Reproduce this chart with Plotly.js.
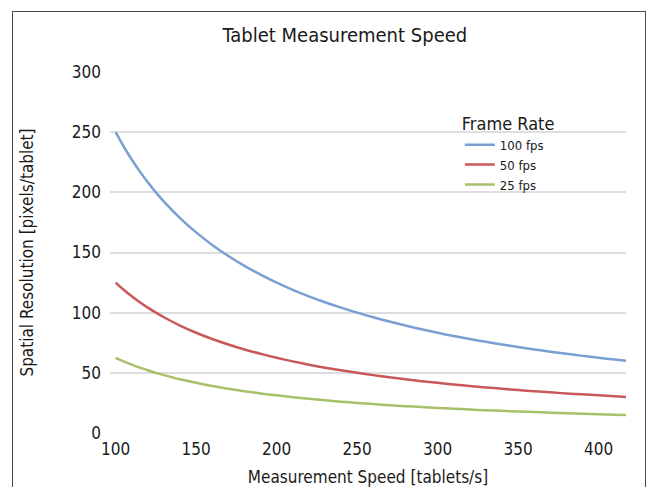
<!DOCTYPE html>
<html>
<head>
<meta charset="utf-8">
<script src="https://cdn.plot.ly/plotly-3.0.1.min.js"></script>
<style>
  html, body { margin: 0; padding: 0; background: #fff; }
  #chart { width: 657px; height: 487px; position: relative; }
  #frame { position: absolute; left: 12px; top: 11px; width: 634px; height: 490px;
           border: 1.5px solid #4a4a4a; box-sizing: border-box; pointer-events: none; }
</style>
</head>
<body>
<div id="chart"></div>
<div id="frame"></div>
<script>
// Measurement speed [tablets/s]
var speed = [100, 105, 110, 115, 120, 125, 130, 140, 150, 160, 170, 180, 190, 200, 210, 220, 230, 240, 250, 260, 270, 280, 290, 300, 310, 320, 330, 340, 350, 360, 370, 380, 390, 400, 410, 417];
// Spatial resolution [pixels/tablet]
var fps100 = [250, 238.1, 227.3, 217.4, 208.3, 200, 192.3, 178.6, 166.7, 156.3, 147.1, 138.9, 131.6, 125, 119, 113.6, 108.7, 104.2, 100, 96.2, 92.6, 89.3, 86.2, 83.3, 80.6, 78.1, 75.8, 73.5, 71.4, 69.4, 67.6, 65.8, 64.1, 62.5, 61, 60];
var fps50  = [125, 119, 113.6, 108.7, 104.2, 100, 96.2, 89.3, 83.3, 78.1, 73.5, 69.4, 65.8, 62.5, 59.5, 56.8, 54.3, 52.1, 50, 48.1, 46.3, 44.6, 43.1, 41.7, 40.3, 39.1, 37.9, 36.8, 35.7, 34.7, 33.8, 32.9, 32.1, 31.3, 30.5, 30];
var fps25  = [62.5, 59.5, 56.8, 54.3, 52.1, 50, 48.1, 44.6, 41.7, 39.1, 36.8, 34.7, 32.9, 31.3, 29.8, 28.4, 27.2, 26, 25, 24, 23.1, 22.3, 21.6, 20.8, 20.2, 19.5, 18.9, 18.4, 17.9, 17.4, 16.9, 16.4, 16, 15.6, 15.2, 15];
var seriesNames = ['100 fps', '50 fps', '25 fps'];
var yTicks = [0, 50, 100, 150, 200, 250, 300];
var xTicks = [100, 150, 200, 250, 300, 350, 400];

var FONT = 'DejaVu Sans Condensed, Liberation Sans, sans-serif';
var colors = ['#7a9fd3', '#c9585a', '#a7c06a'];
var data = [fps100, fps50, fps25].map(function (ys, i) {
  return {
    x: speed, y: ys, name: seriesNames[i], type: 'scatter', mode: 'lines',
    line: { color: colors[i], width: 2.5, shape: 'spline', smoothing: 0.8 }
  };
});

var layout = {
  width: 657, height: 487,
  margin: { l: 110, r: 31, t: 72, b: 54 },
  paper_bgcolor: 'rgba(0,0,0,0)', plot_bgcolor: 'rgba(0,0,0,0)',
  font: { family: FONT, color: '#1a1a1a', size: 17 },
  title: { text: 'Tablet Measurement Speed', x: 0.525, xanchor: 'center', y: 0.928, yanchor: 'middle',
           font: { family: FONT, size: 20, color: '#1a1a1a' } },
  xaxis: {
    range: [96.5, 417], tickvals: xTicks, showgrid: false, zeroline: false,
    showline: false, ticks: '', ticklabelstandoff: 4,
    tickfont: { family: FONT, size: 17 },
    title: { text: 'Measurement Speed [tablets/s]', standoff: 13, font: { family: FONT, size: 17 } }
  },
  yaxis: {
    range: [0, 300], tickvals: yTicks, showgrid: true, gridcolor: '#dedede', gridwidth: 2,
    zeroline: false, showline: false, ticks: '', ticklabelstandoff: 8,
    tickfont: { family: FONT, size: 17 },
    title: { text: 'Spatial Resolution [pixels/tablet]', standoff: 33, font: { family: FONT, size: 17 } }
  },
  showlegend: true,
  legend: {
    x: 0.678, y: 0.905, xanchor: 'left', yanchor: 'top',
    bgcolor: 'rgba(0,0,0,0)', borderwidth: 0,
    title: { text: 'Frame Rate', font: { family: FONT, size: 18 } },
    font: { family: FONT, size: 13 }, itemwidth: 30, tracegroupgap: 0
  }
};

Plotly.newPlot('chart', data, layout, { displayModeBar: false, staticPlot: true });
</script>
</body>
</html>
